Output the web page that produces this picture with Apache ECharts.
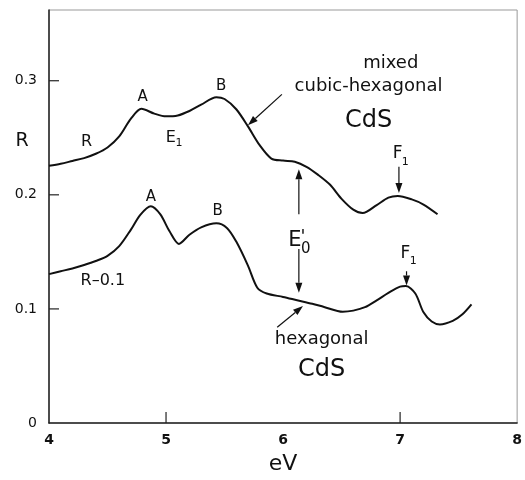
<!DOCTYPE html>
<html>
<head>
<meta charset="utf-8">
<script src="https://cdn.jsdelivr.net/npm/echarts@6/dist/echarts.min.js"></script>
<style>
  html, body { margin: 0; padding: 0; background: #fff; }
  #chart { width: 525px; height: 480px; }
</style>
</head>
<body>
<div id="chart"></div>
<script>
// mixed cubic-hexagonal CdS : photon energy (eV) / reflectivity R
var mixedEv = [4.00, 4.10, 4.20, 4.30, 4.40, 4.50, 4.60, 4.70, 4.79, 4.90, 5.00, 5.10, 5.20, 5.30, 5.43, 5.50, 5.60, 5.70, 5.80, 5.90, 6.00, 6.10, 6.20, 6.30, 6.40, 6.50, 6.60, 6.68, 6.80, 6.90, 6.98, 7.10, 7.20, 7.32];
var mixedR  = [0.2254, 0.2272, 0.2297, 0.2322, 0.2360, 0.2415, 0.2512, 0.2668, 0.2754, 0.2712, 0.2688, 0.2696, 0.2735, 0.2790, 0.2856, 0.2840, 0.2750, 0.2600, 0.2435, 0.2318, 0.2300, 0.2290, 0.2246, 0.2175, 0.2090, 0.1965, 0.1870, 0.1840, 0.1910, 0.1975, 0.1990, 0.1960, 0.1915, 0.1830];
// hexagonal CdS, drawn as R-0.1
var hexEv = [4.00, 4.10, 4.20, 4.30, 4.40, 4.50, 4.60, 4.70, 4.78, 4.87, 4.95, 5.03, 5.11, 5.20, 5.30, 5.43, 5.52, 5.60, 5.70, 5.78, 5.86, 6.00, 6.12, 6.25, 6.35, 6.51, 6.60, 6.70, 6.80, 6.90, 7.00, 7.05, 7.13, 7.20, 7.27, 7.34, 7.45, 7.53, 7.61];
var hexRminus = [0.1305, 0.1330, 0.1355, 0.1385, 0.1420, 0.1465, 0.1550, 0.1695, 0.1825, 0.1900, 0.1830, 0.1680, 0.1570, 0.1650, 0.1715, 0.1750, 0.1710, 0.1590, 0.1380, 0.1186, 0.1135, 0.1105, 0.1076, 0.1045, 0.1017, 0.0975, 0.0985, 0.1015, 0.1075, 0.1140, 0.1195, 0.1200, 0.1135, 0.0970, 0.0890, 0.0864, 0.0895, 0.0950, 0.1040];
var xLabels = [4, 5, 6, 7, 8];
var xTickMarks = [5, 7];
var yLabels = [0, 0.1, 0.2, 0.3];
var yTickMarks = [0.1, 0.2, 0.3];

// text notes : [text, eV, R, fontSize]
var notes = [
    ['R', 4.32, 0.246, 16],
    ['A', 4.80, 0.286, 15],
    ['B', 5.47, 0.295, 15],
    ['E', 5.04, 0.250, 16],
    ['1', 5.11, 0.2455, 11],
    ['mixed', 6.92, 0.315, 18],
    ['cubic-hexagonal', 6.73, 0.295, 18],
    ['CdS', 6.73, 0.265, 24],
    ['F', 6.98, 0.2364, 17],
    ['1', 7.045, 0.2288, 11],
    ['E', 6.10, 0.160, 21],
    ["'", 6.17, 0.163, 18],
    ['0', 6.195, 0.152, 15],
    ['A', 4.87, 0.198, 15],
    ['B', 5.44, 0.1856, 15],
    ['R\u20130.1', 4.46, 0.1246, 16],
    ['F', 7.046, 0.1483, 17],
    ['1', 7.112, 0.1415, 11],
    ['hexagonal', 6.33, 0.0737, 18],
    ['CdS', 6.33, 0.0466, 24]
];
// arrows : from -> to (head at "to")
var arrows = [
    [[5.99, 0.288], [5.70, 0.261]],
    [[6.99, 0.2246], [6.99, 0.2015]],
    [[6.135, 0.183], [6.135, 0.2225]],
    [[6.135, 0.1525], [6.135, 0.1142]],
    [[7.055, 0.133], [7.055, 0.1205]],
    [[5.95, 0.0839], [6.17, 0.1025]]
];

function pairs(xs, ys) {
    return xs.map(function (x, i) { return [x, ys[i]]; });
}

var font = 'DejaVu Sans';
var chart = echarts.init(document.getElementById('chart'));

chart.setOption({
    animation: false,
    backgroundColor: '#fff',
    grid: { left: 49, right: 2, top: 10, bottom: 43, show: true, borderColor: '#999', borderWidth: 1 },
    xAxis: {
        type: 'value', min: 4, max: 8, interval: 1,
        axisLine: { lineStyle: { color: '#222', width: 1.5 } },
        axisTick: { show: false },
        axisLabel: { customValues: xLabels, fontFamily: font, fontSize: 14, fontWeight: 'bold', color: '#111', margin: 10 },
        splitLine: { show: false },
        name: 'eV', nameLocation: 'middle', nameGap: 30,
        nameTextStyle: { fontFamily: font, fontSize: 22, color: '#111' }
    },
    yAxis: {
        type: 'value', min: 0, max: 0.362,
        axisLine: { show: true, lineStyle: { color: '#222', width: 1.5 } },
        axisTick: { show: false },
        axisLabel: {
            customValues: yLabels, fontFamily: font, fontSize: 14, color: '#111', margin: 12,
            formatter: function (v) { return v === 0 ? '0' : v.toFixed(1); }
        },
        splitLine: { show: false }
    },
    series: [{
        type: 'line', data: pairs(mixedEv, mixedR), smooth: 0.3, showSymbol: false,
        lineStyle: { color: '#111', width: 2 }
    }, {
        type: 'line', data: pairs(hexEv, hexRminus), smooth: 0.3, showSymbol: false,
        lineStyle: { color: '#111', width: 2 }
    }]
});

function px(p) {
    return chart.convertToPixel({ gridIndex: 0 }, p);
}

var graphics = [];
// inward tick marks
xTickMarks.forEach(function (v) {
    var p = px([v, 0]);
    graphics.push({ type: 'line', shape: { x1: p[0], y1: p[1], x2: p[0], y2: p[1] - 11 }, style: { stroke: '#222', lineWidth: 1.2 } });
});
yTickMarks.forEach(function (v) {
    var p = px([4, v]);
    graphics.push({ type: 'line', shape: { x1: p[0], y1: p[1], x2: p[0] + 10, y2: p[1] }, style: { stroke: '#222', lineWidth: 1.2 } });
});
// y axis title
graphics.push({
    type: 'text', x: 22, y: 141,
    style: { text: 'R', font: '19px ' + font, fill: '#111', align: 'center', verticalAlign: 'middle' }
});
notes.forEach(function (n) {
    var p = px([n[1], n[2]]);
    graphics.push({
        type: 'text', x: p[0], y: p[1],
        style: { text: n[0], font: n[3] + 'px ' + font, fill: '#111', align: 'center', verticalAlign: 'middle' }
    });
});
arrows.forEach(function (a) {
    var s = px(a[0]), e = px(a[1]);
    var dx = e[0] - s[0], dy = e[1] - s[1];
    var len = Math.sqrt(dx * dx + dy * dy);
    var ux = dx / len, uy = dy / len;
    var hl = 10, hw = 3.5;
    var bx = e[0] - ux * hl, by = e[1] - uy * hl;
    graphics.push({
        type: 'line',
        shape: { x1: s[0], y1: s[1], x2: bx, y2: by },
        style: { stroke: '#111', lineWidth: 1.2 }
    });
    graphics.push({
        type: 'polygon',
        shape: { points: [[e[0], e[1]], [bx - uy * hw, by + ux * hw], [bx + uy * hw, by - ux * hw]] },
        style: { fill: '#111' }
    });
});
chart.setOption({ graphic: graphics });
</script>
</body>
</html>
